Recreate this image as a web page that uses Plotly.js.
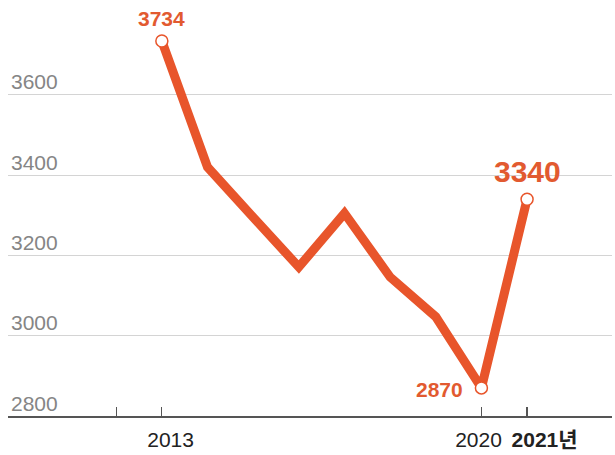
<!DOCTYPE html>
<html>
<head>
<meta charset="utf-8">
<script src="https://cdn.plot.ly/plotly-3.0.1.min.js"></script>
<style>html,body{margin:0;padding:0;background:#fff;}#chart{width:615px;height:455px;}</style>
</head>
<body>
<div id="chart"></div>
<script>
var years = [2013, 2014, 2015, 2016, 2017, 2018, 2019, 2020, 2021];
var values = [3734, 3420, 3295, 3171, 3305, 3146, 3047, 2870, 3340];
var markedYears = [2013, 2020, 2021];
var markedValues = [3734, 2870, 3340];
var xTickVals = [2012, 2013, 2020, 2021];
var xTickText = ['', '\u00A0\u00A0\u00A02013', '2020\u00A0', '\u00A0\u00A0\u00A0\u00A0\u00A0\u00A0<b>2021<span style="font-family:\'Noto Sans CJK KR\'">년</span></b>'];
var yTickVals = [2800, 3000, 3200, 3400, 3600];
var yTickText = ['2800', '3000', '3200', '3400', '3600'];

var orange = '#e8552b';
var labelOrange = '#e25a30';
var font = 'Liberation Sans, Arial, "Noto Sans CJK KR", sans-serif';

var traces = [
  {x: years, y: values, type: 'scatter', mode: 'lines',
   line: {color: orange, width: 9, shape: 'linear'}, hoverinfo: 'skip'},
  {x: markedYears, y: markedValues, type: 'scatter', mode: 'markers',
   marker: {size: 12, color: '#ffffff', line: {color: orange, width: 1.5}}, hoverinfo: 'skip'}
];

var annotations = [
  {x: markedYears[0], y: markedValues[0], text: '<b>' + markedValues[0] + '</b>', showarrow: false,
   yshift: 22, font: {family: font, size: 21, color: labelOrange}},
  {x: markedYears[1], y: markedValues[1], text: '<b>' + markedValues[1] + '</b>', showarrow: false,
   xanchor: 'right', xshift: -16, yshift: -2, font: {family: font, size: 21, color: labelOrange}},
  {x: markedYears[2], y: markedValues[2], text: '<b>' + markedValues[2] + '</b>', showarrow: false,
   yshift: 28, font: {family: font, size: 30, color: labelOrange}}
];

var layout = {
  width: 615, height: 455,
  margin: {l: 8, r: 3, t: 0, b: 39},
  paper_bgcolor: '#ffffff', plot_bgcolor: '#ffffff',
  showlegend: false,
  xaxis: {range: [2009.63, 2022.86], tickvals: xTickVals, ticktext: xTickText,
          tickangle: 0, automargin: false, ticklabelstandoff: 4,
          ticks: 'inside', ticklen: 9, tickcolor: '#555', tickwidth: 1.2,
          showgrid: false, zeroline: false, showline: true, linecolor: '#555', linewidth: 1.5,
          tickfont: {family: font, size: 21, color: '#222'}, fixedrange: true},
  yaxis: {range: [2800, 3836], tickvals: yTickVals, ticktext: yTickText,
          ticklabelposition: 'inside top', ticklabelshift: 2,
          showgrid: true, gridcolor: '#d4d4d4', gridwidth: 1,
          zeroline: false, showline: false, ticks: '', automargin: false,
          tickfont: {family: font, size: 21, color: '#858585'}, fixedrange: true},
  annotations: annotations
};

Plotly.newPlot('chart', traces, layout, {staticPlot: true, displayModeBar: false});
</script>
</body>
</html>
